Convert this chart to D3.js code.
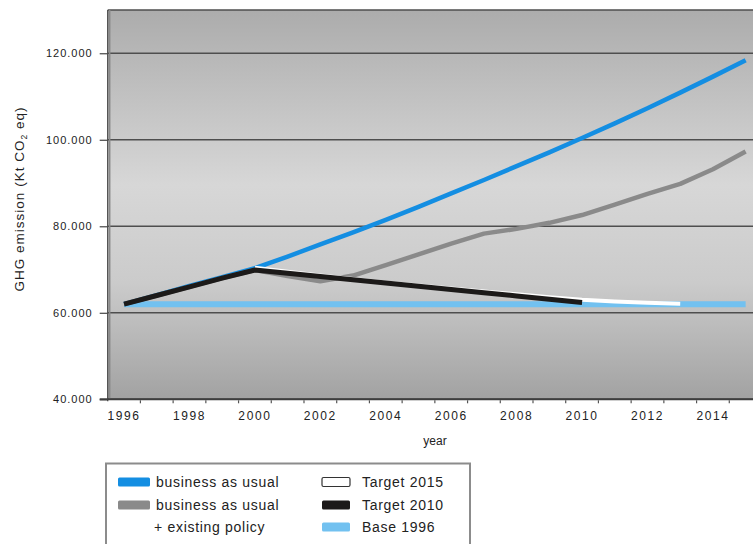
<!DOCTYPE html>
<html>
<head>
<meta charset="utf-8">
<script src="https://cdn.jsdelivr.net/npm/d3@7/dist/d3.min.js"></script>
<style>
  html, body { margin: 0; padding: 0; background: #ffffff; }
  svg { display: block; }
  text { font-family: "Liberation Sans", "DejaVu Sans", sans-serif; fill: #222; }
</style>
</head>
<body>
<svg id="chart" width="753" height="544"></svg>
<script>
// Years on the category axis
const years = d3.range(1996, 2016);
const yearLabels = [1996, 1998, 2000, 2002, 2004, 2006, 2008, 2010, 2012, 2014];
const yTicks = [40000, 60000, 80000, 100000, 120000];

// GHG emission series (Kt CO2 eq), one value per year; null = not drawn
const businessAsUsual = [62000, 64100, 66200, 68250, 70300, 73000, 75800, 78600, 81500, 84500,
                         87600, 90700, 93900, 97100, 100400, 103800, 107300, 110900, 114600, 118400];
const withExistingPolicy = [62000, 64000, 66000, 68000, 69900, 68500, 67300, 68600, 71000, 73500,
                            76000, 78300, 79400, 80800, 82600, 85000, 87500, 89800, 93200, 97300];
const target2015 = [null, null, null, null, 70400, 69500, 68600, 67800, 67000, 66300,
                    65600, 64900, 64300, 63600, 63000, 62600, 62300, 62100, null, null];
const target2010 = [62000, 64000, 66000, 68000, 69900, 69150, 68400, 67650, 66900, 66150,
                    65400, 64650, 63900, 63150, 62400, null, null, null, null, null];
const base1996 = years.map(() => 62000);

const svg = d3.select("#chart");
const plot = { left: 107.7, right: 762, top: 10, bottom: 399.3 };

const x = d3.scaleBand().domain(years).range([plot.left, plot.right]).padding(0);
const y = d3.scaleLinear().domain([40000, 130000]).range([plot.bottom, plot.top]);
const fmt = d3.formatLocale({ decimal: ",", thousands: ".", grouping: [3], currency: ["", ""] }).format(",");

// Plot background: vertical grey gradient
const defs = svg.append("defs");
const grad = defs.append("linearGradient").attr("id", "bg").attr("x1", 0).attr("x2", 0).attr("y1", 0).attr("y2", 1);
grad.append("stop").attr("offset", "0%").attr("stop-color", "#acacac");
grad.append("stop").attr("offset", "45%").attr("stop-color", "#d7d7d7");
grad.append("stop").attr("offset", "70%").attr("stop-color", "#cbcbcb");
grad.append("stop").attr("offset", "100%").attr("stop-color", "#a2a2a2");

svg.append("rect")
  .attr("x", plot.left).attr("y", plot.top)
  .attr("width", plot.right - plot.left).attr("height", plot.bottom - plot.top)
  .attr("fill", "url(#bg)");

// Horizontal gridlines
svg.append("g").selectAll("line").data(yTicks.concat([130000])).join("line")
  .attr("x1", plot.left).attr("x2", plot.right)
  .attr("y1", d => y(d)).attr("y2", d => y(d))
  .attr("stroke", "#4e4e4e").attr("stroke-width", 1.6);

// Left axis line with a soft shadow
svg.append("line").attr("x1", plot.left + 2).attr("x2", plot.left + 2)
  .attr("y1", plot.top).attr("y2", plot.bottom).attr("stroke", "#8a8a8a").attr("stroke-width", 1.5);
svg.append("line").attr("x1", plot.left).attr("x2", plot.left)
  .attr("y1", plot.top).attr("y2", plot.bottom + 2).attr("stroke", "#555").attr("stroke-width", 1.4);

// Y axis: ticks and labels
const yAxis = d3.axisLeft(y).tickValues(yTicks).tickSize(8).tickFormat(fmt);
const gy = svg.append("g").attr("transform", `translate(${plot.left},0)`).call(yAxis);
gy.select(".domain").remove();
gy.selectAll(".tick line").attr("stroke", "#444").attr("stroke-width", 1.2);
gy.selectAll(".tick text").attr("x", -15).attr("font-size", 11).attr("fill", "#333").attr("letter-spacing", 1);

// X axis: labels centred in each year band, small ticks on band edges
const xAxis = d3.axisBottom(x).tickValues(yearLabels).tickSize(0).tickPadding(12);
const gx = svg.append("g").attr("transform", `translate(0,${plot.bottom})`).call(xAxis);
gx.select(".domain").remove();
gx.selectAll(".tick text")
  .attr("font-family", "'Liberation Serif', 'DejaVu Serif', serif")
  .attr("font-size", 12).attr("letter-spacing", 1.6).attr("fill", "#222");

svg.append("line").attr("x1", plot.left - 8).attr("x2", plot.right)
  .attr("y1", plot.bottom).attr("y2", plot.bottom)
  .attr("stroke", "#3e3e3e").attr("stroke-width", 2);

svg.append("g").selectAll("line").data(years.slice(1)).join("line")
  .attr("x1", d => x(d)).attr("x2", d => x(d))
  .attr("y1", plot.bottom + 1).attr("y2", plot.bottom + 4)
  .attr("stroke", "#555").attr("stroke-width", 1.2);

// Axis titles
svg.append("text").attr("x", 435).attr("y", 445).attr("text-anchor", "middle")
  .attr("font-size", 12).attr("fill", "#333").text("year");

const yTitle = svg.append("text")
  .attr("transform", "translate(24,199) rotate(-90)")
  .attr("text-anchor", "middle").attr("font-size", 13.5).attr("letter-spacing", 1)
  .attr("fill", "#333");
yTitle.append("tspan").text("GHG emission (Kt CO");
yTitle.append("tspan").attr("font-size", 8.5).attr("dy", 3).text("2");
yTitle.append("tspan").attr("dy", -3).text(" eq)");

// Series lines, drawn at band centres
const cx = d => x(d) + x.bandwidth() / 2;
const line = d3.line()
  .defined(d => d.v !== null)
  .x(d => cx(d.year))
  .y(d => y(d.v));
const toPts = arr => years.map((yr, i) => ({ year: yr, v: arr[i] }));

const series = [
  { name: "Base 1996", data: base1996, color: "#72c1f0", width: 6 },
  { name: "business as usual", data: businessAsUsual, color: "#148ee2", width: 4.5 },
  { name: "business as usual + existing policy", data: withExistingPolicy, color: "#8a8a8a", width: 4.5 },
  { name: "Target 2015", data: target2015, color: "#ffffff", width: 4 },
  { name: "Target 2010", data: target2010, color: "#1c1a19", width: 5 }
];

svg.append("g").selectAll("path").data(series).join("path")
  .attr("d", s => line(toPts(s.data)))
  .attr("fill", "none")
  .attr("stroke", s => s.color)
  .attr("stroke-width", s => s.width)
  .attr("stroke-linejoin", "round");

// Legend box
const lg = svg.append("g");
lg.append("path")
  .attr("d", "M106,546 L106,463.5 L470,463.5 L470,546")
  .attr("fill", "#ffffff").attr("stroke", "#8c8c8c").attr("stroke-width", 2);

const legendItems = [
  { col: 0, row: 0, color: "#148ee2", stroke: null, label: ["business as usual"] },
  { col: 0, row: 1, color: "#8a8a8a", stroke: null, label: ["business as usual", "+ existing policy"] },
  { col: 1, row: 0, color: "#ffffff", stroke: "#333", label: ["Target 2015"] },
  { col: 1, row: 1, color: "#1c1a19", stroke: null, label: ["Target 2010"] },
  { col: 1, row: 2, color: "#72c1f0", stroke: null, label: ["Base 1996"] }
];
const colX = [118, 322];
const rowY = [482, 505, 527];

legendItems.forEach(it => {
  const g = lg.append("g");
  const sx = colX[it.col], sy = rowY[it.row];
  g.append("rect")
    .attr("x", sx).attr("y", sy - 4.5)
    .attr("width", it.col === 0 ? 32 : 28).attr("height", 9).attr("rx", 1.5)
    .attr("fill", it.color)
    .attr("stroke", it.stroke || "none").attr("stroke-width", 1.2);
  it.label.forEach((t, i) => {
    g.append("text")
      .attr("x", sx + (it.col === 0 ? 38 : 40) + (i > 0 ? -2 : 0))
      .attr("y", sy + i * 22 + 5)
      .attr("font-size", 14).attr("fill", "#222").attr("letter-spacing", 0.7)
      .text(t);
  });
});
</script>
</body>
</html>
